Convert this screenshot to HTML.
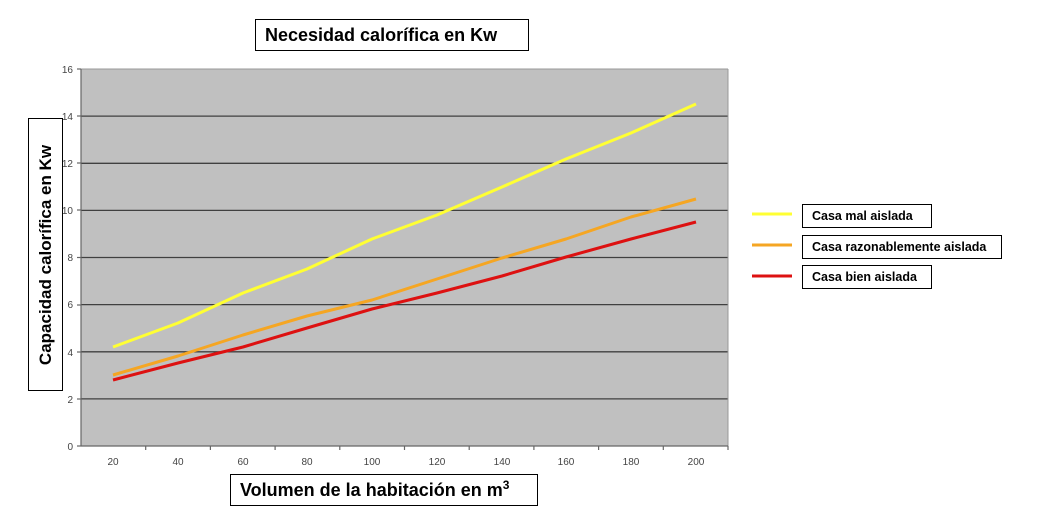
<!DOCTYPE html>
<html><head><meta charset="utf-8"><style>
body{margin:0;background:#fff;width:1041px;height:520px;overflow:hidden;font-family:"Liberation Sans",sans-serif}
.box{position:absolute;border:1px solid #000;background:#fff;box-sizing:border-box;font-weight:bold;color:#000}
</style></head><body>
<svg width="1041" height="520" style="position:absolute;left:0;top:0" font-family="Liberation Sans, sans-serif">
<rect x="81" y="69" width="647" height="377" fill="#c0c0c0"/>
<g stroke="#404040" stroke-width="1.3">
<line x1="81" y1="116.1" x2="728" y2="116.1"/><line x1="81" y1="163.3" x2="728" y2="163.3"/>
<line x1="81" y1="210.4" x2="728" y2="210.4"/><line x1="81" y1="257.5" x2="728" y2="257.5"/>
<line x1="81" y1="304.6" x2="728" y2="304.6"/><line x1="81" y1="351.8" x2="728" y2="351.8"/>
<line x1="81" y1="398.9" x2="728" y2="398.9"/>
</g>
<line x1="81" y1="69" x2="728" y2="69" stroke="#999" stroke-width="1"/>
<line x1="728" y1="69" x2="728" y2="446" stroke="#999" stroke-width="1"/>
<g stroke="#666" stroke-width="1.2">
<line x1="81" y1="69" x2="81" y2="446"/><line x1="81" y1="446" x2="728" y2="446"/>
<line x1="77" y1="69" x2="81" y2="69"/><line x1="77" y1="116" x2="81" y2="116"/><line x1="77" y1="163" x2="81" y2="163"/><line x1="77" y1="210" x2="81" y2="210"/><line x1="77" y1="257.5" x2="81" y2="257.5"/><line x1="77" y1="305" x2="81" y2="305"/><line x1="77" y1="352" x2="81" y2="352"/><line x1="77" y1="399" x2="81" y2="399"/><line x1="77" y1="446" x2="81" y2="446"/>
<line x1="145.7" y1="446" x2="145.7" y2="450"/><line x1="210.4" y1="446" x2="210.4" y2="450"/><line x1="275.1" y1="446" x2="275.1" y2="450"/><line x1="339.8" y1="446" x2="339.8" y2="450"/><line x1="404.5" y1="446" x2="404.5" y2="450"/><line x1="469.2" y1="446" x2="469.2" y2="450"/><line x1="533.9" y1="446" x2="533.9" y2="450"/><line x1="598.6" y1="446" x2="598.6" y2="450"/><line x1="663.3" y1="446" x2="663.3" y2="450"/><line x1="728" y1="446" x2="728" y2="450"/>
</g>
<g font-size="10" fill="#444" text-anchor="end">
<text x="73" y="73">16</text><text x="73" y="120">14</text><text x="73" y="167">12</text><text x="73" y="214">10</text><text x="73" y="261">8</text><text x="73" y="308">6</text><text x="73" y="356">4</text><text x="73" y="403">2</text><text x="73" y="450">0</text>
</g>
<g font-size="10" fill="#444" text-anchor="middle">
<text x="113" y="465">20</text><text x="178" y="465">40</text><text x="243" y="465">60</text><text x="307" y="465">80</text><text x="372" y="465">100</text><text x="437" y="465">120</text><text x="502" y="465">140</text><text x="566" y="465">160</text><text x="631" y="465">180</text><text x="696" y="465">200</text>
</g>
<g fill="none" stroke-width="3" stroke-linejoin="round">
<polyline stroke="#ffff33" points="113,347 178,323 243,293 307,269 372,239 437,215 502,187 566,159 631,133 696,104"/>
<polyline stroke="#f5a623" points="113,375 178,356 243,335 307,316 372,300 437,279 502,258 566,239 631,217 696,199"/>
<polyline stroke="#dd1111" points="113,380 178,363 243,347 307,328 372,309 437,293 502,276 566,257 631,239 696,222"/>
<line x1="752" y1="214" x2="792" y2="214" stroke="#ffff33"/>
<line x1="752" y1="245" x2="792" y2="245" stroke="#f5a623"/>
<line x1="752" y1="276" x2="792" y2="276" stroke="#dd1111"/>
</g>
</svg>
<div class="box" style="left:255px;top:19px;width:274px;height:32px;font-size:18px;line-height:30px;padding-left:9px">Necesidad calorífica en Kw</div>
<div class="box" style="left:230px;top:474px;width:308px;height:32px;font-size:18px;line-height:30px;padding-left:9px">Volumen de la habitación en m<sup style="font-size:12px;vertical-align:7px;line-height:0">3</sup></div>
<div class="box" style="left:28px;top:118px;width:35px;height:273px">
<div style="position:absolute;left:17px;top:136px;transform:translate(-50%,-50%) rotate(-90deg);white-space:nowrap;font-size:17px">Capacidad calorífica en Kw</div></div>
<div class="box" style="left:802px;top:204px;width:130px;height:24px;font-size:12.5px;line-height:22px;padding-left:9px">Casa mal aislada</div>
<div class="box" style="left:802px;top:235px;width:200px;height:24px;font-size:12.5px;line-height:22px;padding-left:9px">Casa razonablemente aislada</div>
<div class="box" style="left:802px;top:265px;width:130px;height:24px;font-size:12.5px;line-height:22px;padding-left:9px">Casa bien aislada</div>
</body></html>
